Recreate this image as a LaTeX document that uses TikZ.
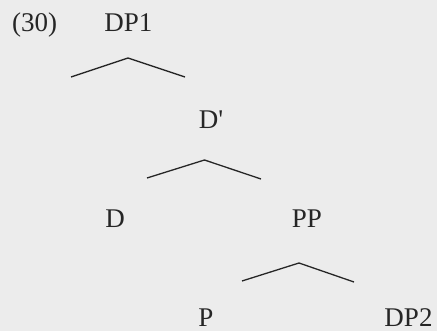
\documentclass[tikz,border=0pt]{standalone}
\usepackage{fontspec}
\newfontfamily\treefont{Liberation Serif}
\definecolor{bg}{HTML}{ECECEC}
\definecolor{ink}{HTML}{262626}
\begin{document}
\begin{tikzpicture}[x=1pt,y=-1pt,
  lbl/.style={anchor=base,inner sep=0pt,text=ink,font=\treefont\fontsize{27}{30}\selectfont},
  roof/.style={draw=ink,line width=1.3pt,line join=miter}]
\fill[bg] (0,0) rectangle (437,331);
\useasboundingbox (0,0) rectangle (437,331);
\node[lbl,anchor=base west] (ex) at (12,32) {(30)};
\node[lbl] (dp1) at (128.5,32) {DP1};
\node[lbl] (dbar) at (211,129) {D'};
\node[lbl] (d) at (115,228) {D};
\node[lbl] (pp) at (307,228) {PP};
\node[lbl] (p) at (206,327) {P};
\node[lbl] (dp2) at (408.5,327) {DP2};
\coordinate (r1l) at (71,77);
\coordinate (r1t) at (128,58);
\coordinate (r1r) at (185,77);
\coordinate (r2l) at (147,178);
\coordinate (r2t) at (204.5,160);
\coordinate (r2r) at (261,179);
\coordinate (r3l) at (242,281);
\coordinate (r3t) at (299,263);
\coordinate (r3r) at (354,282);
\draw[roof] (r1l) -- (r1t) -- (r1r);
\draw[roof] (r2l) -- (r2t) -- (r2r);
\draw[roof] (r3l) -- (r3t) -- (r3r);
\end{tikzpicture}
\end{document}
